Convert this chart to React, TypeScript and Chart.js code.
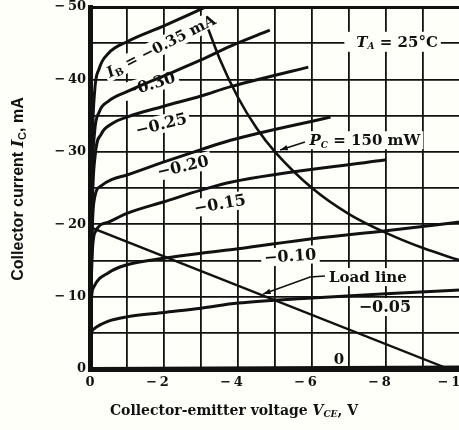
import React, { useEffect, useRef } from "react";
import { Chart, registerables } from "chart.js";
Chart.register(...registerables);

// ---- data (V_CE in volts, I_C in mA) ----
const xTicks = [0, -2, -4, -6, -8, -10];
const yTicks = [0, -10, -20, -30, -40, -50];

const ib035: [number, number][] = [[0, 0], [-0.06, -30], [-0.12, -38], [-0.25, -41.5], [-0.5, -43.6], [-1, -45.2], [-2, -47.4], [-3, -49.7], [-3.2, -50.2]];
const ib030: [number, number][] = [[0, 0], [-0.06, -26], [-0.12, -32.5], [-0.25, -35.5], [-0.5, -37], [-1, -38.3], [-2, -40.5], [-3, -42.7], [-3.8, -44.6], [-4.86, -46.8]];
const ib025: [number, number][] = [[0, 0], [-0.06, -22], [-0.14, -29.5], [-0.3, -32.4], [-0.6, -33.9], [-1, -34.8], [-2, -36.3], [-3, -37.7], [-3.8, -39], [-5.9, -41.7]];
const ib020: [number, number][] = [[0, 0], [-0.06, -19], [-0.12, -23.5], [-0.3, -25.3], [-0.6, -26.2], [-1, -26.8], [-2, -28.6], [-3, -30.3], [-3.8, -31.6], [-6.5, -34.8]];
const ib015: [number, number][] = [[0, 0], [-0.05, -15], [-0.15, -19], [-0.5, -20.3], [-1, -21.5], [-2, -23.1], [-3, -24.7], [-3.8, -25.8], [-8, -28.9]];
const ib010: [number, number][] = [[0, 0], [-0.03, -9], [-0.1, -11.3], [-0.5, -13.3], [-1, -14.4], [-2, -15.3], [-3, -16], [-4, -16.6], [-6, -18], [-8, -19.1], [-10, -20.3]];
const ib005: [number, number][] = [[0, 0], [-0.03, -4.5], [-0.1, -5.5], [-0.5, -6.6], [-1, -7.2], [-2, -7.8], [-3, -8.4], [-4, -9.1], [-6, -9.8], [-8, -10.4], [-10, -10.9]];
const ib000: [number, number][] = [[0, 0], [-10, -0.2]];
const loadLine: [number, number][] = [[0, -19.6], [-9.7, 0]];
const pc150: [number, number][] = [[-3.2, -46.9], [-3.5, -42.9], [-4, -37.5], [-4.5, -33.3], [-5, -30], [-6, -25], [-7, -21.4], [-8, -18.8], [-9, -16.7], [-10, -15]];

const SERIF = '"DejaVu Serif", "Liberation Serif", serif';
const SANS = '"Liberation Sans", Arial, sans-serif';
const INK = "#111";
const BG = "#fffffa";

type Part = { t: string; f: string; dy?: number };
const B = (s: number) => `bold ${s}px ${SERIF}`;
const BI = (s: number) => `italic bold ${s}px ${SERIF}`;

type Ann = { parts: Part[]; v: number; i: number; rot: number; h: number; padL?: number; padR?: number };
const anns: Ann[] = [
  { parts: [{ t: "I", f: BI(15) }, { t: "B", f: B(10), dy: 4 }, { t: " = −0.35 mA", f: B(15) }], v: -1.92, i: -44.6, rot: -27, h: 18 },
  { parts: [{ t: "−0.30", f: B(16) }], v: -1.62, i: -39.3, rot: -17, h: 18 },
  { parts: [{ t: "−0.25", f: B(16) }], v: -1.92, i: -33.8, rot: -14, h: 18 },
  { parts: [{ t: "−0.20", f: B(16) }], v: -2.51, i: -28.0, rot: -13, h: 18 },
  { parts: [{ t: "−0.15", f: B(16) }], v: -3.51, i: -22.8, rot: -10, h: 18 },
  { parts: [{ t: "−0.10", f: B(16) }], v: -5.41, i: -15.6, rot: -4, h: 18 },
  { parts: [{ t: "−0.05", f: B(16) }], v: -7.97, i: -8.56, rot: 0, h: 18 },
  { parts: [{ t: "0", f: B(15) }], v: -6.73, i: -1.38, rot: 0, h: 16 },
  { parts: [{ t: "T", f: BI(15) }, { t: "A", f: BI(9), dy: 4 }, { t: " = 25°C", f: B(15) }], v: -8.3, i: -45.2, rot: 0, h: 20, padL: 12 },
  { parts: [{ t: "P", f: BI(15) }, { t: "C", f: BI(9), dy: 4 }, { t: " = 150 mW", f: B(15) }], v: -7.43, i: -31.6, rot: 0, h: 18 },
  { parts: [{ t: "Load line", f: B(15) }], v: -7.51, i: -12.7, rot: 0, h: 18 },
];
const arrows: [number, number][][] = [
  [[-5.81, -31.35], [-5.14, -30.25]],
  [[-6.35, -12.85], [-5.95, -12.7], [-4.68, -10.36]],
];

function widthOf(ctx: CanvasRenderingContext2D, parts: Part[]) {
  let w = 0;
  for (const p of parts) { ctx.font = p.f; w += ctx.measureText(p.t).width; }
  return w;
}
function drawParts(ctx: CanvasRenderingContext2D, parts: Part[], x: number, y: number) {
  let cx = x;
  for (const p of parts) {
    ctx.font = p.f;
    ctx.fillText(p.t, cx, y + (p.dy || 0));
    cx += ctx.measureText(p.t).width;
  }
}

const annPlugin = {
  id: "annots",
  beforeDraw(chart: any) {
    const { ctx, width, height } = chart;
    ctx.save();
    ctx.fillStyle = BG;
    ctx.fillRect(0, 0, width, height);
    ctx.restore();
  },
  beforeDatasetsDraw(chart: any) {
    const { ctx, scales } = chart;
    ctx.save();
    for (const a of anns) {
      const x = scales.x.getPixelForValue(a.v);
      const y = scales.y.getPixelForValue(a.i);
      const w = widthOf(ctx, a.parts);
      ctx.save();
      ctx.translate(x, y);
      ctx.rotate((a.rot * Math.PI) / 180);
      ctx.fillStyle = BG;
      const pl = a.padL ?? 3, pr = a.padR ?? 3;
      ctx.fillRect(-w / 2 - pl, -a.h / 2, w + pl + pr, a.h);
      ctx.restore();
    }
    ctx.restore();
  },
  afterDatasetsDraw(chart: any) {
    const { ctx, scales } = chart;
    ctx.save();
    ctx.fillStyle = INK;
    ctx.textBaseline = "middle";
    ctx.textAlign = "left";
    for (const a of anns) {
      const x = scales.x.getPixelForValue(a.v);
      const y = scales.y.getPixelForValue(a.i);
      const w = widthOf(ctx, a.parts);
      ctx.save();
      ctx.translate(x, y);
      ctx.rotate((a.rot * Math.PI) / 180);
      drawParts(ctx, a.parts, -w / 2, 1);
      ctx.restore();
    }
    // arrows
    ctx.strokeStyle = INK;
    ctx.lineWidth = 1.6;
    for (const arr of arrows) {
      const pts = arr.map(([v, i]) => [scales.x.getPixelForValue(v), scales.y.getPixelForValue(i)]);
      ctx.beginPath();
      ctx.moveTo(pts[0][0], pts[0][1]);
      for (let k = 1; k < pts.length; k++) ctx.lineTo(pts[k][0], pts[k][1]);
      ctx.stroke();
      const [tx, ty] = pts[pts.length - 1];
      const [px, py] = pts[pts.length - 2];
      const ang = Math.atan2(ty - py, tx - px);
      ctx.beginPath();
      ctx.moveTo(tx, ty);
      ctx.lineTo(tx - 8 * Math.cos(ang - 0.35), ty - 8 * Math.sin(ang - 0.35));
      ctx.lineTo(tx - 8 * Math.cos(ang + 0.35), ty - 8 * Math.sin(ang + 0.35));
      ctx.closePath();
      ctx.fill();
    }
    ctx.restore();
  },
  afterDraw(chart: any) {
    const { ctx } = chart;
    ctx.save();
    ctx.fillStyle = INK;
    ctx.textBaseline = "middle";
    // x title
    const xp: Part[] = [
      { t: "Collector-emitter voltage ", f: B(14) },
      { t: "V", f: BI(14) },
      { t: "CE", f: BI(9), dy: 4 },
      { t: ", V", f: B(14) },
    ];
    const xw = widthOf(ctx, xp);
    drawParts(ctx, xp, 234 - xw / 2, 411);
    // y title
    const yp: Part[] = [
      { t: "Collector current ", f: `bold 16px ${SANS}` },
      { t: "I", f: `italic bold 16px ${SERIF}` },
      { t: "C", f: `bold 11px ${SANS}`, dy: 4 },
      { t: ", mA", f: `bold 16px ${SANS}` },
    ];
    const yw = widthOf(ctx, yp);
    ctx.translate(19, 189);
    ctx.rotate(-Math.PI / 2);
    drawParts(ctx, yp, -yw / 2, 0);
    ctx.restore();
  },
};

const fmtY = (v: number) => (v === 0 ? "0" : "−\u2009" + Math.abs(v));
const fmtX = (v: number) => (v === 0 ? "0" : "−\u2009" + Math.abs(v) + "\u2003");

export default function App() {
  const ref = useRef<HTMLCanvasElement | null>(null);
  useEffect(() => {
    document.body.style.margin = "0";
    document.body.style.background = BG;
    if (!ref.current) return;
    const curve = (data: [number, number][], w = 3) => ({
      data: data.map(([x, y]) => ({ x, y })),
      showLine: true,
      borderColor: INK,
      borderWidth: w,
      pointRadius: 0,
      cubicInterpolationMode: "monotone" as const,
      fill: false,
    });
    const chart = new Chart(ref.current, {
      type: "scatter",
      data: {
        datasets: [
          curve(ib035), curve(ib030), curve(ib025), curve(ib020), curve(ib015),
          curve(ib010), curve(ib005), curve(ib000, 4), curve(loadLine, 2.4), curve(pc150, 2.6),
        ],
      },
      options: {
        animation: false,
        responsive: false,
        maintainAspectRatio: false,
        layout: { padding: { top: 7, right: 10, left: 0, bottom: 0 } },
        plugins: { legend: { display: false }, tooltip: { enabled: false } },
        scales: {
          x: {
            type: "linear",
            min: -10,
            max: 0,
            reverse: true,
            afterFit: (s: any) => { s.height = 61; s.paddingLeft = 0; s.paddingRight = 0; },
            afterBuildTicks: (s: any) => {
              const t: any[] = [];
              for (let v = 0; v >= -10; v--) t.push({ value: v });
              s.ticks = t;
            },
            ticks: {
              autoSkip: false,
              maxRotation: 0,
              padding: 6,
              color: INK,
              font: { family: SERIF, weight: "bold", size: 13 },
              callback: (v: any) => (xTicks.includes(Number(v)) ? fmtX(Number(v)) : ""),
            },
            grid: {
              color: INK,
              lineWidth: (c: any) => (c.tick && c.tick.value === 0 ? 0 : 1.8),
              drawTicks: false,
            },
            border: { display: true, color: INK, width: 5 },
          },
          y: {
            type: "linear",
            min: -50,
            max: 0,
            reverse: true,
            afterFit: (s: any) => { s.width = 90; s.paddingTop = 0; s.paddingBottom = 0; },
            afterBuildTicks: (s: any) => {
              const t: any[] = [];
              for (let v = 0; v >= -50; v -= 5) t.push({ value: v });
              s.ticks = t;
            },
            ticks: {
              autoSkip: false,
              padding: 4,
              color: INK,
              font: { family: SERIF, weight: "bold", size: 13 },
              callback: (v: any) => (yTicks.includes(Number(v)) ? fmtY(Number(v)) : ""),
            },
            grid: {
              color: INK,
              lineWidth: (c: any) => (c.tick && c.tick.value === -50 ? 3 : c.tick && c.tick.value === 0 ? 0 : 1.8),
              drawTicks: false,
            },
            border: { display: true, color: INK, width: 5 },
          },
        },
      },
      plugins: [annPlugin],
    } as any);
    return () => chart.destroy();
  }, []);
  return (
    <div style={{ width: 459, height: 430, overflow: "hidden", background: BG }}>
      <canvas ref={ref} width={470} height={430} style={{ display: "block" }} />
    </div>
  );
}
